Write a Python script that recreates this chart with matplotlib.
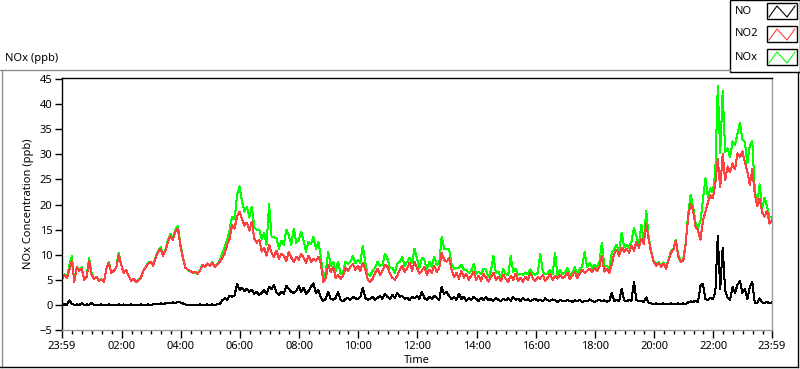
import numpy as np
import matplotlib
matplotlib.use("Agg")
import matplotlib.pyplot as plt
from matplotlib.lines import Line2D
from matplotlib.patches import Rectangle

plt.rcParams["font.family"] = ["Noto Sans", "DejaVu Sans"]

# sample grid: first sample at 23:59, one sample every 5 minutes (hours)
t_start = -1 / 60
t_step = 5 / 60

no2 = [
    5.2, 6.0, 5.4, 7.0, 8.7, 4.6, 7.5, 6.8, 7.2, 5.0, 5.6, 8.8,
    6.0, 5.2, 5.6, 4.8, 5.0, 4.6, 7.2, 8.4, 6.4, 6.8, 7.4, 10.0,
    8.0, 6.4, 7.0, 5.8, 4.8, 5.2, 4.6, 4.9, 5.4, 6.8, 7.6, 8.2,
    8.6, 7.8, 9.4, 10.6, 11.2, 9.8, 10.8, 12.6, 13.8, 13.0, 14.6, 15.2,
    11.8, 9.4, 7.4, 7.0, 6.8, 6.4, 6.6, 6.2, 6.8, 8.0, 7.6, 8.2,
    7.8, 8.4, 7.6, 8.0, 8.6, 9.4, 10.2, 12.0, 13.2, 16.0, 15.2, 17.6,
    18.6, 17.2, 15.8, 16.4, 14.8, 16.6, 13.2, 12.4, 13.0, 10.6, 11.4, 9.8,
    12.0, 10.4, 9.6, 10.8, 9.2, 10.2, 9.8, 8.8, 10.6, 9.4, 8.6, 9.6,
    9.0, 10.2, 9.4, 8.4, 9.8, 8.6, 9.2, 8.8, 9.6, 8.2, 4.6, 5.4,
    8.0, 6.6, 7.6, 5.4, 6.0, 5.2, 5.8, 7.4, 6.8, 7.6, 8.2, 7.0,
    7.8, 6.8, 8.4, 7.2, 5.0, 4.6, 5.2, 6.4, 7.2, 6.0, 6.8, 8.0,
    7.6, 6.2, 5.4, 5.0, 5.8, 7.0, 7.8, 6.6, 7.2, 8.4, 6.8, 8.6,
    7.4, 6.2, 6.8, 7.6, 6.0, 7.0, 6.4, 7.8, 6.6, 7.2, 10.4, 9.0,
    8.6, 9.4, 7.0, 5.6, 6.4, 5.2, 6.8, 5.4, 6.2, 5.0, 5.8, 6.6,
    5.0, 5.8, 4.8, 6.2, 5.4, 4.6, 5.6, 6.4, 5.0, 5.6, 4.8, 6.0,
    5.2, 4.6, 5.8, 5.0, 6.2, 4.8, 5.4, 4.6, 5.6, 5.0, 6.4, 5.2,
    4.8, 5.6, 5.2, 6.0, 4.8, 5.4, 6.2, 5.0, 5.8, 5.2, 6.0, 5.4,
    5.6, 6.4, 5.2, 5.8, 6.6, 5.4, 6.2, 7.0, 6.4, 6.8, 7.2, 6.6,
    7.4, 6.8, 7.6, 9.8, 6.6, 7.2, 6.4, 8.0, 10.2, 11.0, 9.8, 11.4,
    10.6, 11.2, 10.4, 11.8, 10.8, 12.6, 11.4, 13.2, 12.2, 16.2, 13.0, 10.4,
    8.6, 7.8, 8.4, 7.6, 8.2, 7.2, 8.8, 10.4, 11.0, 12.8, 9.6, 8.6,
    8.8, 12.2, 17.6, 20.2, 18.8, 15.6, 14.8, 13.0, 16.8, 18.6, 20.4, 21.8,
    21.2, 24.2, 29.0, 23.4, 30.0, 24.8, 27.6, 26.4, 28.2, 27.0, 30.2, 29.4,
    30.6, 28.4, 26.6, 23.8, 27.0, 22.2, 19.6, 21.2, 18.4, 17.6, 18.8, 16.2,
    17.0,
]

nox = [
    5.2, 6.1, 5.4, 7.9, 9.8, 4.6, 7.6, 6.8, 7.5, 5.0, 5.7, 9.4,
    6.4, 5.2, 5.5, 4.8, 5.1, 4.5, 7.2, 8.6, 6.4, 6.7, 7.4, 10.4,
    8.0, 6.5, 6.9, 5.8, 4.9, 5.2, 4.5, 4.9, 5.5, 6.8, 7.6, 8.4,
    8.6, 7.9, 9.6, 10.7, 11.5, 10.0, 11.1, 13.0, 14.1, 13.5, 15.0, 15.8,
    12.3, 9.7, 7.5, 7.0, 6.7, 6.4, 6.5, 6.2, 6.9, 8.0, 7.6, 8.3,
    7.8, 8.5, 7.6, 8.1, 8.8, 10.3, 11.5, 13.0, 15.0, 17.6, 17.1, 21.8,
    23.6, 20.6, 18.6, 19.6, 17.4, 19.6, 15.4, 15.0, 15.0, 13.0, 14.4, 12.0,
    20.2, 13.6, 13.5, 13.2, 11.2, 12.8, 12.0, 15.0, 13.8, 12.0, 15.2, 12.4,
    12.8, 14.6, 12.8, 10.6, 12.6, 12.2, 13.5, 11.2, 12.6, 9.6, 5.4, 6.6,
    10.6, 7.8, 8.6, 6.8, 8.6, 6.2, 6.5, 8.6, 8.2, 8.6, 9.8, 8.3,
    9.0, 8.4, 11.8, 8.6, 6.0, 5.8, 6.8, 7.4, 8.6, 7.8, 8.0, 10.2,
    9.2, 7.4, 7.4, 6.4, 8.2, 8.6, 9.6, 7.8, 8.6, 9.4, 8.4, 11.2,
    9.2, 7.4, 9.4, 9.0, 7.0, 8.6, 7.6, 9.6, 8.0, 8.2, 13.6, 11.2,
    11.2, 11.2, 8.2, 7.2, 7.4, 7.4, 8.0, 7.0, 7.0, 6.4, 6.8, 8.2,
    6.2, 6.6, 6.2, 7.2, 7.0, 5.5, 6.8, 9.8, 6.4, 6.6, 5.5, 7.2,
    6.1, 5.9, 9.8, 6.6, 7.2, 6.0, 6.2, 6.0, 6.5, 6.1, 7.1, 6.2,
    6.0, 6.4, 10.2, 6.7, 6.1, 6.3, 7.0, 6.1, 10.4, 5.8, 7.0, 6.2,
    6.3, 7.4, 6.0, 6.4, 7.5, 6.1, 7.2, 7.6, 10.6, 7.5, 8.3, 7.4,
    8.0, 7.6, 8.6, 12.4, 7.5, 7.8, 7.2, 10.4, 11.0, 12.0, 10.5, 14.4,
    11.5, 11.9, 11.4, 12.6, 15.4, 13.6, 12.1, 16.0, 12.8, 18.8, 13.4, 10.7,
    8.8, 8.1, 8.5, 7.8, 8.5, 7.3, 9.0, 10.7, 11.1, 13.0, 9.9, 8.8,
    9.1, 12.4, 18.1, 22.0, 19.4, 16.4, 15.4, 16.8, 21.0, 25.2, 21.3, 23.2,
    22.4, 26.6, 43.6, 30.2, 42.6, 30.4, 31.2, 29.4, 32.6, 31.8, 34.2, 36.2,
    33.0, 32.4, 28.2, 31.8, 32.6, 23.0, 20.0, 24.0, 19.2, 21.4, 19.6, 17.4,
    17.6,
]

no = [
    0.0, 0.1, 0.0, 0.9, 0.2, 0.0, 0.1, 0.0, 0.3, 0.0, 0.1, 0.0,
    0.4, 0.0, -0.1, 0.0, 0.1, -0.1, 0.0, 0.1, 0.0, -0.1, 0.0, 0.1,
    0.0, 0.1, -0.1, 0.0, 0.1, 0.0, -0.1, 0.0, 0.1, 0.0, 0.0, 0.1,
    0.0, 0.1, 0.2, 0.1, 0.3, 0.2, 0.3, 0.4, 0.3, 0.5, 0.4, 0.6,
    0.5, 0.3, 0.1, 0.0, -0.1, 0.0, -0.1, 0.0, 0.1, -0.1, 0.0, 0.1,
    0.0, 0.1, 0.0, 0.1, 0.2, 0.9, 1.3, 1.0, 1.8, 1.6, 1.9, 4.2,
    3.0, 3.4, 2.8, 3.2, 2.6, 3.0, 2.2, 2.6, 2.0, 2.4, 3.0, 2.2,
    3.6, 3.2, 3.9, 2.4, 2.0, 2.6, 2.2, 3.8, 3.2, 2.6, 2.4, 2.8,
    3.8, 2.6, 3.4, 2.2, 2.8, 3.6, 4.3, 2.4, 3.0, 1.4, 0.8, 1.2,
    2.6, 1.2, 1.0, 1.4, 2.6, 1.0, 0.7, 1.2, 1.4, 1.0, 1.6, 1.3,
    1.2, 1.6, 3.4, 1.4, 1.0, 1.2, 1.6, 1.0, 1.4, 1.8, 1.2, 2.2,
    1.6, 1.2, 2.0, 1.4, 2.4, 1.6, 1.8, 1.2, 1.4, 1.0, 1.6, 1.3,
    1.8, 1.2, 2.6, 1.4, 1.0, 1.6, 1.2, 1.8, 1.4, 1.0, 3.6, 2.2,
    2.6, 1.8, 1.2, 1.6, 1.0, 2.2, 1.2, 1.6, 0.8, 1.4, 1.0, 1.6,
    1.2, 0.8, 1.4, 1.0, 1.6, 0.9, 1.2, 0.8, 1.4, 1.0, 0.7, 1.2,
    0.9, 1.3, 0.8, 1.6, 1.0, 1.2, 0.8, 1.4, 0.9, 1.1, 0.7, 1.0,
    1.2, 0.8, 1.0, 0.7, 1.3, 0.9, 0.8, 1.1, 0.9, 0.6, 1.0, 0.8,
    0.7, 1.0, 0.8, 0.6, 0.9, 0.7, 1.0, 0.6, 0.8, 0.7, 1.1, 0.8,
    0.6, 0.8, 1.0, 0.7, 0.9, 0.6, 0.8, 2.4, 0.8, 1.0, 0.7, 3.2,
    0.9, 0.7, 1.0, 0.8, 4.6, 1.0, 0.7, 0.8, 0.6, 1.5, 0.4, 0.3,
    0.2, 0.3, 0.1, 0.2, 0.3, 0.1, 0.2, 0.3, 0.1, 0.2, 0.3, 0.2,
    0.3, 0.2, 0.5, 0.7, 0.6, 0.8, 0.6, 3.8, 4.2, 1.2, 0.9, 1.4,
    1.2, 2.4, 13.8, 3.2, 11.4, 2.8, 1.4, 1.0, 3.6, 2.4, 4.0, 4.8,
    2.4, 3.2, 1.2, 3.6, 4.6, 0.4, 0.3, 1.3, 0.5, 0.4, 0.6, 0.3,
    0.5,
]

major_ticks = [-1 / 60, 2, 4, 6, 8, 10, 12, 14, 16, 18, 20, 22, 24 - 1 / 60]
major_labels = ["23:59", "02:00", "04:00", "06:00", "08:00", "10:00", "12:00",
                "14:00", "16:00", "18:00", "20:00", "22:00", "23:59"]
y_ticks = [-5, 0, 5, 10, 15, 20, 25, 30, 35, 40, 45]

W, H = 800, 369
fig = plt.figure(figsize=(W / 100, H / 100), dpi=100)
ax = fig.add_axes([62 / W, 1 - 330 / H, (772 - 62) / W, (330 - 78) / H])

t = t_start + t_step * np.arange(len(no2))
ax.plot(t, nox, color="#00ff00", lw=0.72, antialiased=False)
ax.plot(t, no2, color="#ff4040", lw=0.72, antialiased=False)
ax.plot(t, no, color="black", lw=0.72, antialiased=False)

ax.set_xlim(-1 / 60, 24 - 1 / 60)
ax.set_ylim(-5, 45.2)
ax.set_yticks(y_ticks)
ax.set_xticks(major_ticks)
ax.set_xticklabels(major_labels)
minor = [m / 3 for m in range(1, 72) if m % 6 != 0]
ax.set_xticks(minor, minor=True)
ax.tick_params(axis="x", which="major", length=6, width=1, labelsize=8, pad=2)
ax.tick_params(axis="x", which="minor", length=3, width=1)
ax.tick_params(axis="y", length=5, width=1, labelsize=8, pad=2)

for s in ["left", "top"]:
    ax.spines[s].set_color("black")
    ax.spines[s].set_linewidth(1.0)
for s in ["right", "bottom"]:
    ax.spines[s].set_color("#9a9a9a")
    ax.spines[s].set_linewidth(1.0)

ax.set_xlabel("Time", fontsize=8, labelpad=2)
ax.set_ylabel("NOx Concentration (ppb)", fontsize=8, labelpad=4)

fig.text(5 / W, 1 - 58 / H, "NOx (ppb)", fontsize=8, va="center", ha="left")


def fline(xs, ys, color, lw=1.0):
    fig.add_artist(Line2D([x / W for x in xs], [1 - y / H for y in ys],
                          transform=fig.transFigure, color=color, lw=lw))


# outer panel frame
fline([0, 730], [69.5, 69.5], "#8c8c8c")
fline([1.5, 1.5], [69.5, 367], "#8c8c8c")
fline([0, 798], [367, 367], "black")
fline([797.5, 797.5], [72, 367], "black")

# legend box
fig.add_artist(Rectangle((730 / W, 1 - 72 / H), 70 / W, 72 / H,
                         transform=fig.transFigure, facecolor="white",
                         edgecolor="black", lw=1.0))
leg = [("NO", "black", 3, 19), ("NO2", "#ff4040", 26, 42), ("NOx", "#00ff00", 49, 65)]
for name, col, y0, y1 in leg:
    fig.text(735 / W, 1 - (y0 + y1) / 2 / H, name, fontsize=8, va="center", ha="left")
    fig.add_artist(Rectangle((767 / W, 1 - y1 / H), 30 / W, (y1 - y0) / H,
                             transform=fig.transFigure, facecolor="white",
                             edgecolor="black", lw=1.0))
    fline([769, 777, 787, 795], [y1 - 2, y0 + 3, y1 - 2, y0 + 3], col, lw=0.8)

fig.savefig("out.png", dpi=100)
